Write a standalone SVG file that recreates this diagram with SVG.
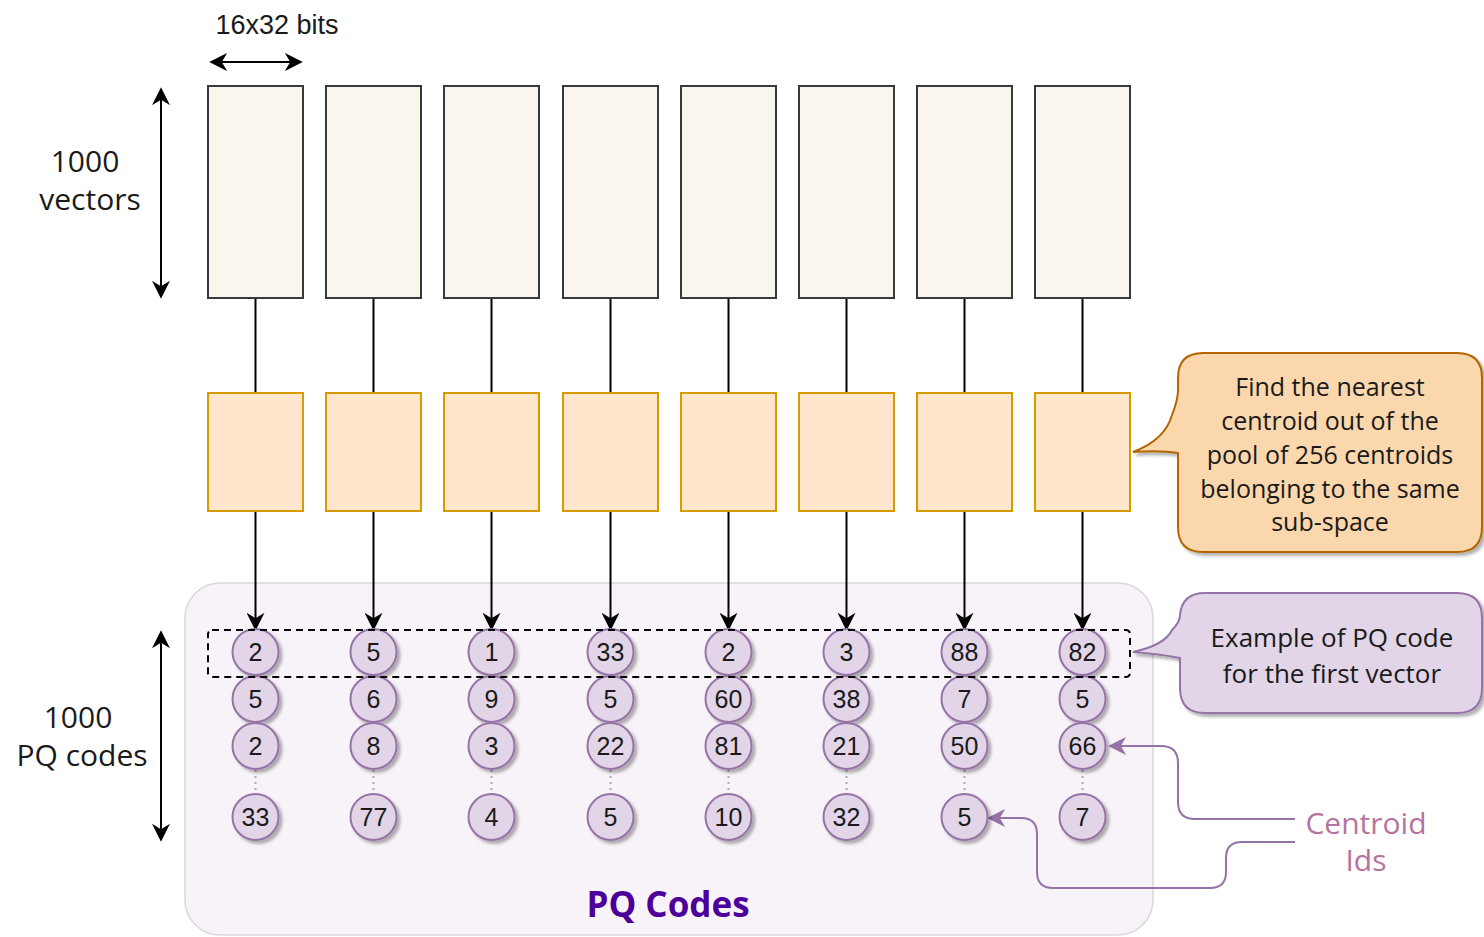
<svg xmlns="http://www.w3.org/2000/svg" width="1484" height="937" viewBox="0 0 1484 937">
<style>
.vec{fill:#f9f7ed;stroke:#36393d;stroke-width:2}
.sub{fill:#ffe6cc;stroke:#d79b00;stroke-width:2}
.cir{fill:#e1d5e7;stroke:#9673a6;stroke-width:2}
.num{font-family:"Liberation Sans",Arial,sans-serif;font-size:25px;fill:#1a1a1a;text-anchor:middle}
.lbl{font-family:"Open Sans",sans-serif;font-size:30px;fill:#1a1a1a;text-anchor:middle}
.cl{font-family:"Open Sans",sans-serif;font-size:25px;fill:#1a1a1a;text-anchor:middle}
.ce{font-family:"Open Sans",sans-serif;font-size:26px;fill:#1a1a1a;text-anchor:middle}
.con{stroke:#000;stroke-width:2;fill:none}
.dot{stroke:#aaa;stroke-width:2;stroke-dasharray:2 4;fill:none}
.pc{stroke:#9673a6;stroke-width:2;fill:none}
</style>
<defs>
<marker id="ahb" viewBox="0 0 10 10" refX="9" refY="5" markerWidth="18" markerHeight="18" orient="auto-start-reverse" markerUnits="userSpaceOnUse">
<path d="M0,0 L10,5 L0,10 L3,5 Z" fill="#000"/>
</marker>
<marker id="ahp" viewBox="0 0 10 10" refX="9" refY="5" markerWidth="18" markerHeight="18" orient="auto" markerUnits="userSpaceOnUse">
<path d="M0,0 L10,5 L0,10 L3,5 Z" fill="#9673a6"/>
</marker>
<filter id="sh" x="-30%" y="-30%" width="170%" height="170%">
<feDropShadow dx="3" dy="3" stdDeviation="1.5" flood-color="#000" flood-opacity="0.3"/>
</filter>
</defs>
<rect width="1484" height="937" fill="#fff"/>

<g id="pq-container">
<rect x="185" y="583" width="968" height="352" rx="35" fill="#f8f3f8" stroke="#d8d8d8" stroke-width="1.5"/>
<text x="668" y="917" font-family="'Open Sans',sans-serif" font-size="35" font-weight="bold" fill="#4c0099" text-anchor="middle">PQ Codes</text>
</g>

<g id="labels">
<text x="277" y="34" font-family="'Liberation Sans',Arial,sans-serif" font-size="27" fill="#1a1a1a" text-anchor="middle">16x32 bits</text>
<text class="lbl" x="85" y="172">1000</text>
<text class="lbl" x="90" y="210">vectors</text>
<text class="lbl" x="78" y="728">1000</text>
<text class="lbl" x="82" y="766">PQ codes</text>
</g>

<g id="dimension-arrows">
<line class="con" x1="211" y1="62" x2="301" y2="62" marker-start="url(#ahb)" marker-end="url(#ahb)" stroke-width="2.5"/>
<line class="con" x1="161" y1="89" x2="161" y2="297" marker-start="url(#ahb)" marker-end="url(#ahb)" stroke-width="2.5"/>
<line class="con" x1="161" y1="632" x2="161" y2="840" marker-start="url(#ahb)" marker-end="url(#ahb)" stroke-width="2.5"/>
</g>

<g id="connectors">
<g class="con">
<line x1="255.5" y1="298" x2="255.5" y2="393"/>
<line x1="373.5" y1="298" x2="373.5" y2="393"/>
<line x1="491.5" y1="298" x2="491.5" y2="393"/>
<line x1="610.5" y1="298" x2="610.5" y2="393"/>
<line x1="728.5" y1="298" x2="728.5" y2="393"/>
<line x1="846.5" y1="298" x2="846.5" y2="393"/>
<line x1="964.5" y1="298" x2="964.5" y2="393"/>
<line x1="1082.5" y1="298" x2="1082.5" y2="393"/>
</g>
<g class="con" marker-end="url(#ahb)">
<line x1="255.5" y1="511" x2="255.5" y2="629"/>
<line x1="373.5" y1="511" x2="373.5" y2="629"/>
<line x1="491.5" y1="511" x2="491.5" y2="629"/>
<line x1="610.5" y1="511" x2="610.5" y2="629"/>
<line x1="728.5" y1="511" x2="728.5" y2="629"/>
<line x1="846.5" y1="511" x2="846.5" y2="629"/>
<line x1="964.5" y1="511" x2="964.5" y2="629"/>
<line x1="1082.5" y1="511" x2="1082.5" y2="629"/>
</g>
<g class="dot">
<line x1="255.5" y1="770" x2="255.5" y2="794"/>
<line x1="373.5" y1="770" x2="373.5" y2="794"/>
<line x1="491.5" y1="770" x2="491.5" y2="794"/>
<line x1="610.5" y1="770" x2="610.5" y2="794"/>
<line x1="728.5" y1="770" x2="728.5" y2="794"/>
<line x1="846.5" y1="770" x2="846.5" y2="794"/>
<line x1="964.5" y1="770" x2="964.5" y2="794"/>
<line x1="1082.5" y1="770" x2="1082.5" y2="794"/>
</g>
<path class="pc" d="M1295,819 H1195 Q1178,819 1178,802 V763 Q1178,746 1161,746 H1110" marker-end="url(#ahp)"/>
<path class="pc" d="M1295,842 H1242 Q1226,842 1226,858 V872 Q1226,888 1210,888 H1053 Q1037,888 1037,872 V834 Q1037,818 1021,818 H989" marker-end="url(#ahp)"/>
</g>

<g id="vectors">
<rect class="vec" x="208" y="86" width="95" height="212"/>
<rect class="vec" x="326" y="86" width="95" height="212"/>
<rect class="vec" x="444" y="86" width="95" height="212"/>
<rect class="vec" x="563" y="86" width="95" height="212"/>
<rect class="vec" x="681" y="86" width="95" height="212"/>
<rect class="vec" x="799" y="86" width="95" height="212"/>
<rect class="vec" x="917" y="86" width="95" height="212"/>
<rect class="vec" x="1035" y="86" width="95" height="212"/>
</g>

<g id="subspaces">
<rect class="sub" x="208" y="393" width="95" height="118"/>
<rect class="sub" x="326" y="393" width="95" height="118"/>
<rect class="sub" x="444" y="393" width="95" height="118"/>
<rect class="sub" x="563" y="393" width="95" height="118"/>
<rect class="sub" x="681" y="393" width="95" height="118"/>
<rect class="sub" x="799" y="393" width="95" height="118"/>
<rect class="sub" x="917" y="393" width="95" height="118"/>
<rect class="sub" x="1035" y="393" width="95" height="118"/>
</g>

<g id="codes">
<g filter="url(#sh)">
<circle class="cir" cx="255.5" cy="652" r="23"/><circle class="cir" cx="373.5" cy="652" r="23"/><circle class="cir" cx="491.5" cy="652" r="23"/><circle class="cir" cx="610.5" cy="652" r="23"/><circle class="cir" cx="728.5" cy="652" r="23"/><circle class="cir" cx="846.5" cy="652" r="23"/><circle class="cir" cx="964.5" cy="652" r="23"/><circle class="cir" cx="1082.5" cy="652" r="23"/>
<circle class="cir" cx="255.5" cy="699" r="23"/><circle class="cir" cx="373.5" cy="699" r="23"/><circle class="cir" cx="491.5" cy="699" r="23"/><circle class="cir" cx="610.5" cy="699" r="23"/><circle class="cir" cx="728.5" cy="699" r="23"/><circle class="cir" cx="846.5" cy="699" r="23"/><circle class="cir" cx="964.5" cy="699" r="23"/><circle class="cir" cx="1082.5" cy="699" r="23"/>
<circle class="cir" cx="255.5" cy="746" r="23"/><circle class="cir" cx="373.5" cy="746" r="23"/><circle class="cir" cx="491.5" cy="746" r="23"/><circle class="cir" cx="610.5" cy="746" r="23"/><circle class="cir" cx="728.5" cy="746" r="23"/><circle class="cir" cx="846.5" cy="746" r="23"/><circle class="cir" cx="964.5" cy="746" r="23"/><circle class="cir" cx="1082.5" cy="746" r="23"/>
<circle class="cir" cx="255.5" cy="817" r="23"/><circle class="cir" cx="373.5" cy="817" r="23"/><circle class="cir" cx="491.5" cy="817" r="23"/><circle class="cir" cx="610.5" cy="817" r="23"/><circle class="cir" cx="728.5" cy="817" r="23"/><circle class="cir" cx="846.5" cy="817" r="23"/><circle class="cir" cx="964.5" cy="817" r="23"/><circle class="cir" cx="1082.5" cy="817" r="23"/>
</g>
<g class="num">
<text x="255.5" y="661">2</text><text x="373.5" y="661">5</text><text x="491.5" y="661">1</text><text x="610.5" y="661">33</text><text x="728.5" y="661">2</text><text x="846.5" y="661">3</text><text x="964.5" y="661">88</text><text x="1082.5" y="661">82</text>
<text x="255.5" y="708">5</text><text x="373.5" y="708">6</text><text x="491.5" y="708">9</text><text x="610.5" y="708">5</text><text x="728.5" y="708">60</text><text x="846.5" y="708">38</text><text x="964.5" y="708">7</text><text x="1082.5" y="708">5</text>
<text x="255.5" y="755">2</text><text x="373.5" y="755">8</text><text x="491.5" y="755">3</text><text x="610.5" y="755">22</text><text x="728.5" y="755">81</text><text x="846.5" y="755">21</text><text x="964.5" y="755">50</text><text x="1082.5" y="755">66</text>
<text x="255.5" y="826">33</text><text x="373.5" y="826">77</text><text x="491.5" y="826">4</text><text x="610.5" y="826">5</text><text x="728.5" y="826">10</text><text x="846.5" y="826">32</text><text x="964.5" y="826">5</text><text x="1082.5" y="826">7</text>
</g>
</g>

<g id="first-vector-box">
<rect x="208" y="630" width="922" height="47" rx="4" fill="none" stroke="#000" stroke-width="2" stroke-dasharray="7 5"/>
</g>

<g id="callout-centroid">
<path d="M1203,353 H1457 Q1482,353 1482,378 V527 Q1482,552 1457,552 H1203 Q1178,552 1178,527 V453 Q1160,450 1133,452 Q1165,440 1172,415 Q1178,400 1178,390 V378 Q1178,353 1203,353 Z" fill="#fad7ac" stroke="#b46504" stroke-width="2" filter="url(#sh)"/>
<text class="cl" x="1330" y="396">Find the nearest</text>
<text class="cl" x="1330" y="430">centroid out of the</text>
<text class="cl" x="1330" y="464">pool of 256 centroids</text>
<text class="cl" x="1330" y="498">belonging to the same</text>
<text class="cl" x="1330" y="531">sub-space</text>
</g>

<g id="callout-example">
<path d="M1205,593 H1457 Q1482,593 1482,618 V688 Q1482,713 1457,713 H1205 Q1180,713 1180,688 V658 Q1160,654 1133,652 Q1165,645 1172,630 Q1180,622 1180,615 Q1182,593 1205,593 Z" fill="#e1d5e7" stroke="#9673a6" stroke-width="2" filter="url(#sh)"/>
<text class="ce" x="1332" y="647">Example of PQ code</text>
<text class="ce" x="1332" y="683">for the first vector</text>
</g>

<g id="centroid-ids">
<text x="1366" y="834" font-family="'Open Sans',sans-serif" font-size="30" fill="#b5739d" text-anchor="middle">Centroid</text>
<text x="1366" y="871" font-family="'Open Sans',sans-serif" font-size="30" fill="#b5739d" text-anchor="middle">Ids</text>
</g>
</svg>
